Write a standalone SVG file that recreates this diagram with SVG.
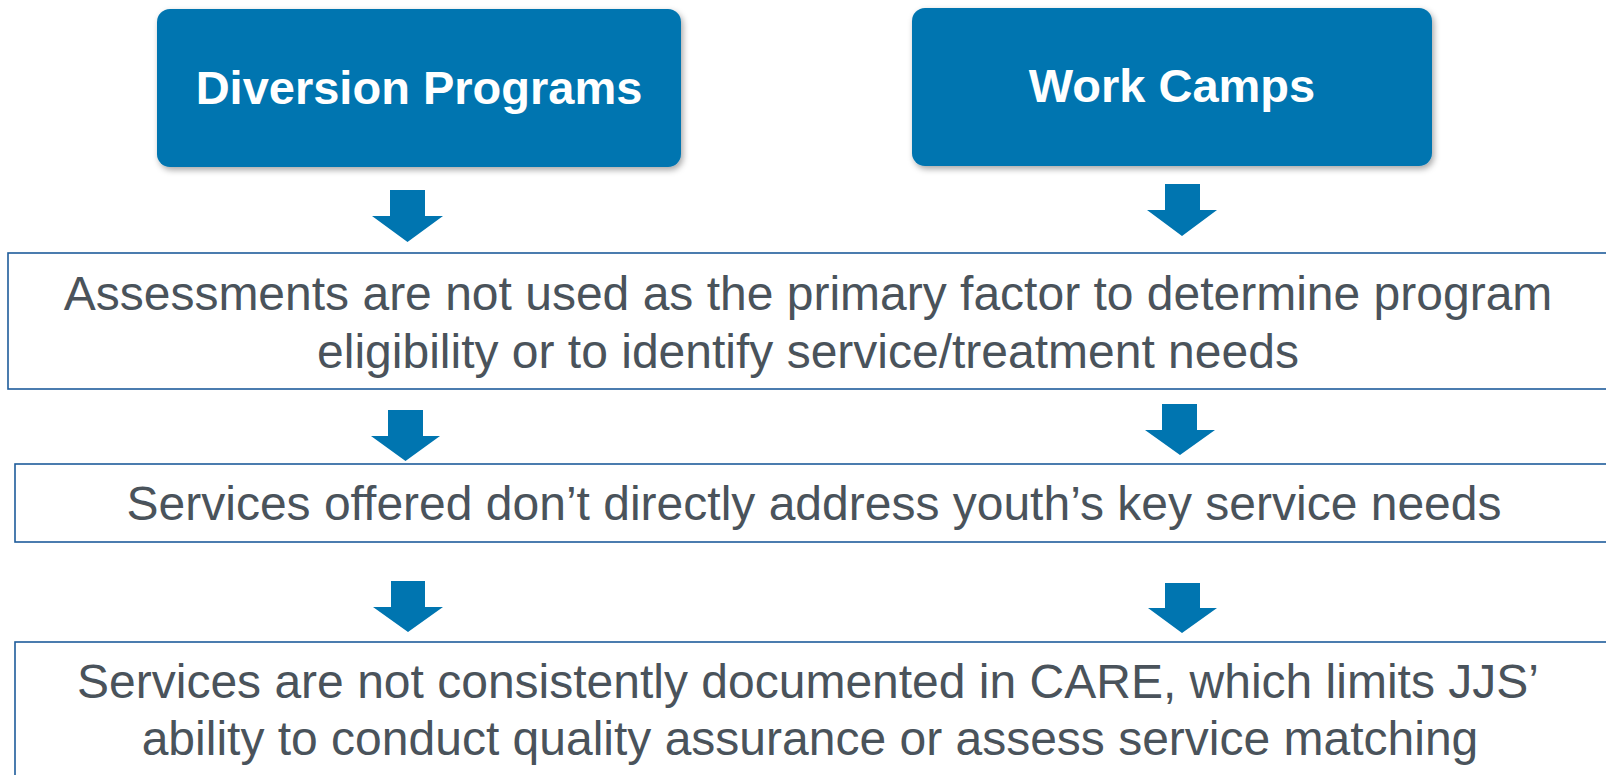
<svg xmlns="http://www.w3.org/2000/svg" width="1606" height="775" viewBox="0 0 1606 775">
  <defs>
    <filter id="shadow" x="-5%" y="-10%" width="110%" height="130%">
      <feDropShadow dx="2" dy="3" stdDeviation="3" flood-color="#000" flood-opacity="0.35"/>
    </filter>
    <style>
      .head { fill: #0075b0; filter: url(#shadow); }
      .head-text { font-family: "Liberation Sans", Arial, sans-serif; font-weight: bold; font-size: 47px; fill: #ffffff; text-anchor: middle; }
      .box { fill: #ffffff; stroke: #1f5c9b; stroke-width: 1.6; }
      .body-text { font-family: "Liberation Sans", Arial, sans-serif; font-size: 48px; fill: #4a535b; text-anchor: middle; }
      .arrow { fill: #0075b0; }
    </style>
  </defs>
  <rect width="1606" height="775" fill="#ffffff"/>

  <!-- block arrows between the stages -->
  <g id="connectors">
    <polygon class="arrow" points="390,190 425,190 425,216 443,216 407.5,242 372,216 390,216"/>
    <polygon class="arrow" points="1165,184 1200,184 1200,210 1217,210 1182,236 1147,210 1165,210"/>
    <polygon class="arrow" points="388,410 423,410 423,436 440,436 405.5,461 371,436 388,436"/>
    <polygon class="arrow" points="1162,404 1197,404 1197,430 1215,430 1180,455 1145,430 1162,430"/>
    <polygon class="arrow" points="391,581 425,581 425,607 443,607 408,632 373,607 391,607"/>
    <polygon class="arrow" points="1165,583 1200,583 1200,608 1217,608 1182,633 1148,608 1165,608"/>
  </g>

  <g id="diversion-programs">
    <rect class="head" x="157" y="9" width="524" height="158" rx="13" ry="13"/>
    <text class="head-text" x="419" y="104">Diversion Programs</text>
  </g>

  <g id="work-camps">
    <rect class="head" x="912" y="8" width="520" height="158" rx="13" ry="13"/>
    <text class="head-text" x="1172" y="102">Work Camps</text>
  </g>

  <g id="assessments">
    <rect class="box" x="8" y="253" width="1610" height="136"/>
    <text class="body-text" x="808" y="310">Assessments are not used as the primary factor to determine program</text>
    <text class="body-text" x="808" y="368">eligibility or to identify service/treatment needs</text>
  </g>

  <g id="services-offered">
    <rect class="box" x="15" y="464" width="1603" height="78"/>
    <text class="body-text" x="814" y="520">Services offered don’t directly address youth’s key service needs</text>
  </g>

  <g id="services-documented">
    <rect class="box" x="15" y="642" width="1603" height="150"/>
    <text class="body-text" x="808" y="698">Services are not consistently documented in CARE, which limits JJS’</text>
    <text class="body-text" x="810" y="755">ability to conduct quality assurance or assess service matching</text>
  </g>
</svg>
